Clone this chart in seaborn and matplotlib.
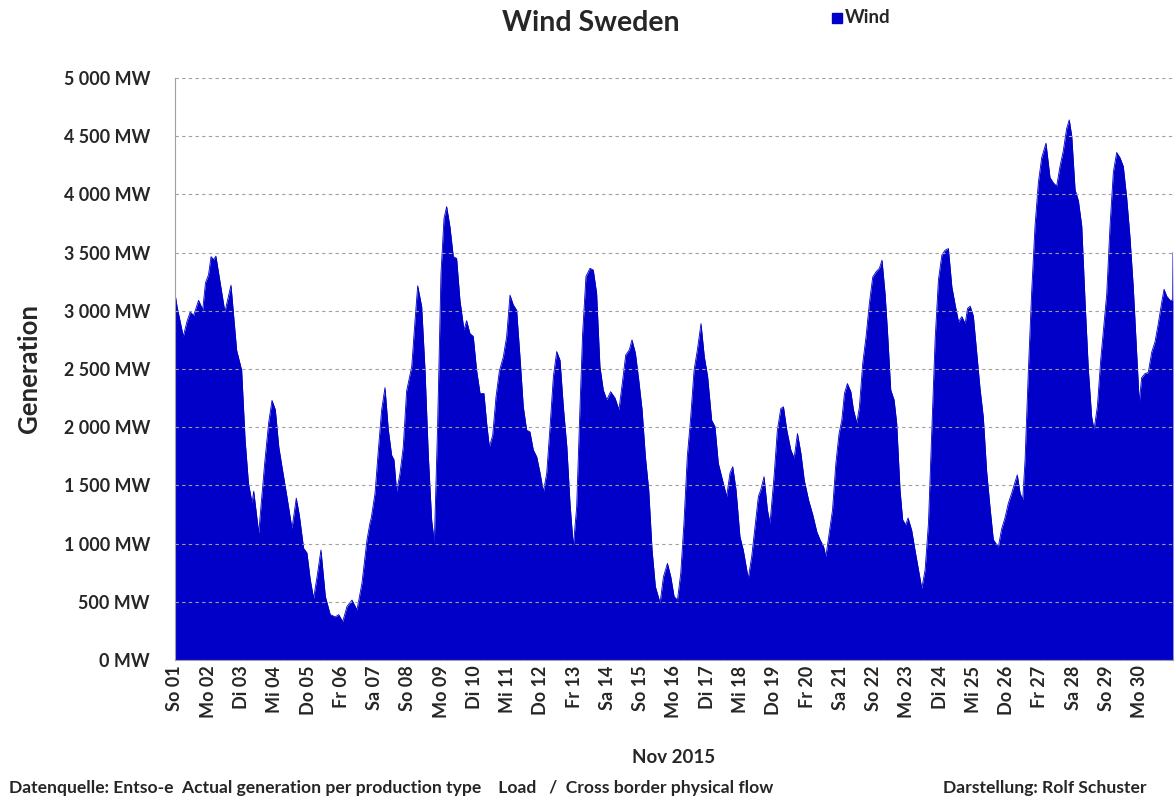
import numpy as np
import matplotlib
matplotlib.use("Agg")
import matplotlib.pyplot as plt
import seaborn as sns
from matplotlib.ticker import FuncFormatter

# Hours since 01.11.2015 00:00 and wind generation (MW)
hours = [
    0, 1.5, 6, 8.7, 11, 13.5, 17, 20, 22, 24.2, 26, 28, 29.5, 32.6, 36, 40.4, 44.5, 48.1,
    50.6, 53, 55.6, 56.8, 60.4, 64.7, 67.6, 70, 72.4, 74.9, 77.2, 80.8, 84.4, 85.6, 87.5,
    89.7, 92.8, 95.2, 97.6, 100, 102.5, 105.3, 108.5, 112, 115.7, 118.1, 121, 124.1, 127.7,
    131.3, 134.9, 138.5, 140.7, 141.6, 144.3, 146.7, 149.1, 151.5, 153.9, 156.3, 158, 159.9,
    162.3, 164.7, 167.1, 169, 170.8, 173.2, 175.1, 178, 180.4, 182.8, 185.2, 187.1, 189.5,
    191.9, 194.1, 196, 198.4, 200.8, 203.2, 205.6, 208.5, 210.4, 212.8, 215.2, 217.6, 220.1,
    222.9, 224.9, 226.8, 229.2, 231.6, 234, 236.9, 239.3, 241.7, 244.1, 246.5, 248.9, 251.3,
    253.7, 256.1, 258.5, 261, 263.4, 265.8, 268.2, 270.6, 273, 275.4, 277.8, 280.2, 282.7,
    285, 287.4, 289.8, 292.2, 294.1, 296.5, 299.4, 301.8, 304.2, 306.6, 309, 311.5, 314.3,
    317.5, 320.3, 322.7, 325.2, 327.8, 329.7, 332.2, 334.6, 337, 339.4, 341.8, 344.2, 346.6,
    350, 352.4, 355.3, 357.7, 360.1, 362.5, 364.9, 367.2, 369.6, 372.1, 374.5, 376.9, 379.5,
    381.9, 384.3, 387.2, 389.6, 392, 394.4, 398, 400.4, 402.4, 404.8, 407.6, 410, 413.6,
    416.1, 418.5, 420.9, 422.6, 425, 427.4, 429.3, 432.2, 434.6, 437.1, 439, 441.4, 444.3,
    446.7, 449.1, 451.6, 454, 457.1, 460.2, 463.1, 465.5, 467.9, 469.6, 472, 474.4, 476.8,
    479.1, 481.1, 483, 485.1, 487.6, 489.5, 491.9, 493.8, 496.2, 498.6, 501, 503.4, 505.8,
    508.2, 510.1, 512.3, 514, 516.4, 518.8, 520.7, 523.1, 525, 527.2, 528.9, 531.5, 533.9,
    536.4, 538.8, 541.2, 543.6, 546, 548.4, 550.8, 553.3, 555.6, 558, 560.5, 562.9, 565.3,
    567.7, 570.1, 571.8, 573.7, 576, 578.4, 580.8, 583.2, 585.6, 588, 590.4, 594, 596.4,
    598.8, 601.2, 603.7, 606.1, 607.7, 609.7, 611.6, 613.3, 615.7, 618.1, 620.5, 622.9,
    625.3, 628.4, 631.3, 633.7, 636.1, 638.5, 640.9, 643.3, 645.2, 647, 649.4, 651.8, 654.2,
    656.6, 659, 661.4, 663.1, 665.5, 667.9, 670.3, 672.2, 674.6, 677, 679.4, 681.8, 684.2,
    686.6, 689, 691.4, 693.8, 695.7, 697.4, 699.8, 702.2, 704.7, 707.1, 709.5, 712, 713.6,
    715.5, 717.9, 719.8, 720,
]
wind_mw = [
    3150, 3035, 2780, 2910, 2990, 2960, 3090, 3010, 3240, 3310, 3465, 3440, 3470, 3240, 2990, 3220, 2660, 2490,
    1890, 1520, 1350, 1450, 1090, 1690, 2040, 2230, 2150, 1830, 1660, 1400, 1130, 1230, 1390,
    1245, 960, 920, 690, 530, 715, 945, 545, 390, 370, 390, 330, 460, 515,
    430, 660, 1030, 1180, 1220, 1430, 1800, 2150, 2340, 1980, 1760, 1720, 1450,
    1600, 1830, 2310, 2420, 2520, 2920, 3215, 3035, 2490, 1750, 1200, 1010, 2030,
    3320, 3795, 3895, 3720, 3465, 3450, 3090, 2835, 2915, 2805, 2780, 2490, 2290,
    2290, 2030, 1830, 1930, 2260, 2480, 2605, 2780, 3135, 3050, 3005, 2605, 2175,
    1975, 1960, 1805, 1745, 1605, 1445, 1605, 2005, 2435, 2650, 2575, 2175, 1835,
    1345, 975, 1315, 2175, 2805, 3295, 3365, 3350, 3150, 2520, 2320, 2235, 2305,
    2250, 2150, 2375, 2620, 2665, 2750, 2635, 2405, 2150, 1745, 1460, 945, 630,
    490, 715, 830, 715, 545, 515, 745, 1175, 1745, 2090, 2490, 2665, 2890,
    2605, 2435, 2060, 2005, 1690, 1575, 1405, 1605, 1660, 1460, 1060, 945, 700,
    890, 1145, 1405, 1460, 1575, 1290, 1175, 1575, 1975, 2160, 2175, 1975, 1805,
    1735, 1945, 1775, 1545, 1375, 1245, 1100, 1030, 975, 890, 1090, 1290, 1690,
    1945, 2060, 2290, 2375, 2305, 2150, 2035, 2175, 2550, 2780, 3065, 3290, 3335,
    3365, 3435, 3150, 2835, 2320, 2235, 2035, 1460, 1205, 1160, 1220, 1115, 945,
    775, 615, 775, 1175, 1975, 2750, 3265, 3480, 3520, 3535, 3205, 3050, 2905,
    2950, 2890, 3020, 3040, 2955, 2645, 2335, 2085, 1620, 1315, 1035, 970, 1125,
    1220, 1345, 1435, 1530, 1590, 1435, 1375, 1715, 2490, 3170, 3730, 4100,
    4315, 4440, 4145, 4100, 4070, 4240, 4375, 4565, 4640, 4500, 4040, 3945, 3730,
    3080, 2490, 2085, 1980, 2180, 2580, 2890, 3140, 3730, 4190, 4360, 4315, 4240,
    3975, 3635, 3200, 2645, 2210, 2425, 2460, 2470, 2645, 2735, 2895, 3080, 3185,
    3125, 3090, 3090, 3500,
]

day_labels = [
    "So 01", "Mo 02", "Di 03", "Mi 04", "Do 05", "Fr 06", "Sa 07", "So 08", "Mo 09", "Di 10",
    "Mi 11", "Do 12", "Fr 13", "Sa 14", "So 15", "Mo 16", "Di 17", "Mi 18", "Do 19", "Fr 20",
    "Sa 21", "So 22", "Mo 23", "Di 24", "Mi 25", "Do 26", "Fr 27", "Sa 28", "So 29", "Mo 30",
]
y_ticks = [0, 500, 1000, 1500, 2000, 2500, 3000, 3500, 4000, 4500, 5000]

WIND_COLOR = "#0000C8"

sns.set_style("white")
plt.rcParams["font.family"] = ["Lato", "DejaVu Sans"]

fig = plt.figure(figsize=(11.76, 8.09), dpi=100)
ax = fig.add_axes([0.1488, 0.1842, 0.8486, 0.7194])

# Area chart
sns.lineplot(x=hours, y=wind_mw, color=WIND_COLOR, linewidth=0.6, ax=ax)
ax.fill_between(hours, wind_mw, 0, color=WIND_COLOR, linewidth=0)

ax.set_xlim(0, 720)
ax.set_ylim(0, 5000)

# Y axis
ax.set_yticks(y_ticks)
ax.yaxis.set_major_formatter(FuncFormatter(lambda v, p: f"{int(v):,} MW".replace(",", " ")))
ax.tick_params(axis="y", length=5, width=0.8, color="#A0A0A0", direction="out",
               labelsize=12.9, pad=13)
for lab in ax.get_yticklabels():
    lab.set_fontweight("bold")
ax.grid(axis="y", color="#A0A0A0", linestyle=(0, (3, 3)), linewidth=0.8)
ax.set_axisbelow(False)
ax.set_ylabel("Generation", fontsize=18.5, fontweight="bold", labelpad=16)

# X axis: one label per day
ax.set_xticks([24 * i for i in range(len(day_labels))])
ax.set_xticklabels(day_labels, rotation=90, fontsize=13, fontweight="bold")
ax.tick_params(axis="x", length=0, pad=4)
ax.set_xlabel("Nov 2015", fontsize=13.5, fontweight="bold", labelpad=22)

for side in ["top", "right"]:
    ax.spines[side].set_visible(False)
ax.spines["left"].set_color("#A0A0A0")
ax.spines["bottom"].set_color("#A0A0A0")
ax.spines["left"].set_linewidth(0.8)
ax.spines["bottom"].set_linewidth(0.8)

# Title and legend
fig.text(0.502, 0.971, "Wind Sweden", ha="center", va="center",
         fontsize=20.5, fontweight="bold")
fig.patches.append(plt.Rectangle((0.7075, 0.971), 0.0085, 0.0125, color=WIND_COLOR,
                                 transform=fig.transFigure, figure=fig))
fig.text(0.7185, 0.978, "Wind", ha="left", va="center", fontsize=13.5, fontweight="bold")

# Footer
fig.text(0.008, 0.026, "Datenquelle: Entso-e  Actual generation per production type    Load   /  Cross border physical flow",
         ha="left", va="center", fontsize=12.6, fontweight="bold")
fig.text(0.975, 0.026, "Darstellung: Rolf Schuster", ha="right", va="center",
         fontsize=12.6, fontweight="bold")

plt.savefig("out.png", dpi=100)
plt.close()
